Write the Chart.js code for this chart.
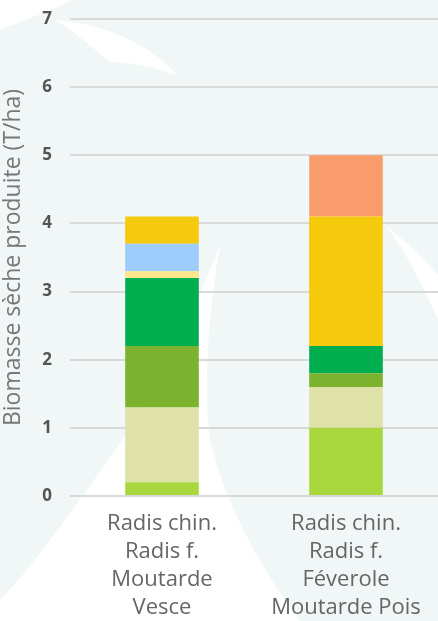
<!DOCTYPE html>
<html>
<head>
<meta charset="utf-8">
<script src="https://cdn.jsdelivr.net/npm/chart.js@4"></script>
<style>
  html, body { margin: 0; padding: 0; background: #f1f7f7; }
  #wrap { width: 438px; height: 621px; position: relative; }
</style>
</head>
<body>
<div id="wrap"><canvas id="biomasseChart"></canvas></div>
<script>
// categories (one per mixture)
const categories = [
  ["Radis chin.", "Radis f.", "Moutarde", "Vesce"],
  ["Radis chin.", "Radis f.", "Féverole", "Moutarde Pois"]
];
// stacked segments, bottom to top (T/ha)
const seg1 = [0.2, 1.0];
const seg2 = [1.1, 0.6];
const seg3 = [0.9, 0.2];
const seg4 = [1.0, 0.4];
const seg5 = [0.1, 0];
const seg6 = [0.4, 0];
const seg7 = [0.4, 1.9];
const seg8 = [0, 0.9];
const yTicks = [0, 1, 2, 3, 4, 5, 6, 7];

const colors = ["#a9d83e", "#dee2a8", "#7bb22e", "#00ae4f", "#fde68e", "#9dcdfb", "#f5c90c", "#f89c6b"];
const series = [seg1, seg2, seg3, seg4, seg5, seg6, seg7, seg8];

// soft leaf shapes in the background
const leafBackground = {
  id: "leafBackground",
  beforeDraw(chart) {
    const c = chart.ctx;
    c.save();
    c.fillStyle = "#f1f7f7";
    c.fillRect(0, 0, chart.width, chart.height);
    c.fillStyle = "#ffffff";
    // top-left swoosh
    c.beginPath();
    c.moveTo(0, 0);
    c.lineTo(70, 0);
    c.bezierCurveTo(60, 8, 40, 14, 0, 30);
    c.closePath();
    c.fill();
    c.beginPath();
    c.moveTo(55, 20);
    c.bezierCurveTo(110, 25, 150, 45, 178, 76);
    c.bezierCurveTo(150, 65, 125, 62, 110, 62);
    c.bezierCurveTo(95, 50, 80, 35, 55, 20);
    c.closePath();
    c.fill();
    // bottom white leaf
    c.beginPath();
    c.moveTo(0, 621);
    c.lineTo(0, 600);
    c.bezierCurveTo(40, 560, 100, 470, 130, 430);
    c.bezierCurveTo(160, 380, 190, 320, 220, 245);
    c.bezierCurveTo(205, 330, 205, 400, 210, 440);
    c.bezierCurveTo(230, 520, 270, 580, 300, 621);
    c.closePath();
    c.fill();
    // right sliver
    c.beginPath();
    c.moveTo(385, 225);
    c.bezierCurveTo(410, 245, 430, 265, 438, 275);
    c.lineTo(438, 320);
    c.bezierCurveTo(420, 280, 405, 250, 385, 225);
    c.closePath();
    c.fill();
    c.restore();
  }
};

new Chart(document.getElementById("biomasseChart"), {
  type: "bar",
  data: {
    labels: categories,
    datasets: series.map((d, i) => ({
      label: "s" + (i + 1),
      data: d,
      backgroundColor: colors[i],
      borderWidth: 0,
      barPercentage: 0.4,
      categoryPercentage: 1.0
    }))
  },
  options: {
    responsive: true,
    maintainAspectRatio: false,
    animation: false,
    layout: { padding: { top: 19, right: 0, left: 0, bottom: 0 } },
    plugins: {
      legend: { display: false },
      tooltip: { enabled: false }
    },
    scales: {
      x: {
        stacked: true,
        grid: { display: false },
        border: { display: false },
        ticks: {
          color: "#666666",
          font: { family: "Open Sans", size: 22, lineHeight: "28px" },
          padding: 6,
          maxRotation: 0,
          autoSkip: false
        },
        afterFit(scale) { scale.height = 125; scale.paddingLeft = 0; scale.paddingRight = 0; }
      },
      y: {
        stacked: true,
        min: 0,
        max: 7,
        afterBuildTicks(scale) { scale.ticks = yTicks.map(v => ({ value: v })); },
        grid: { color: "#d9d9d9", lineWidth: 2, drawTicks: false },
        border: { display: false },
        ticks: {
          color: "#555555",
          font: { family: "Open Sans", size: 17, weight: "bold" },
          padding: 18
        },
        title: {
          display: true,
          text: "Biomasse sèche produite (T/ha)",
          color: "#777777",
          font: { family: "Open Sans", size: 23 },
          padding: 0
        },
        afterFit(scale) { scale.width = 70; scale.paddingTop = 0; scale.paddingBottom = 0; }
      }
    }
  },
  plugins: [leafBackground]
});
</script>
</body>
</html>
